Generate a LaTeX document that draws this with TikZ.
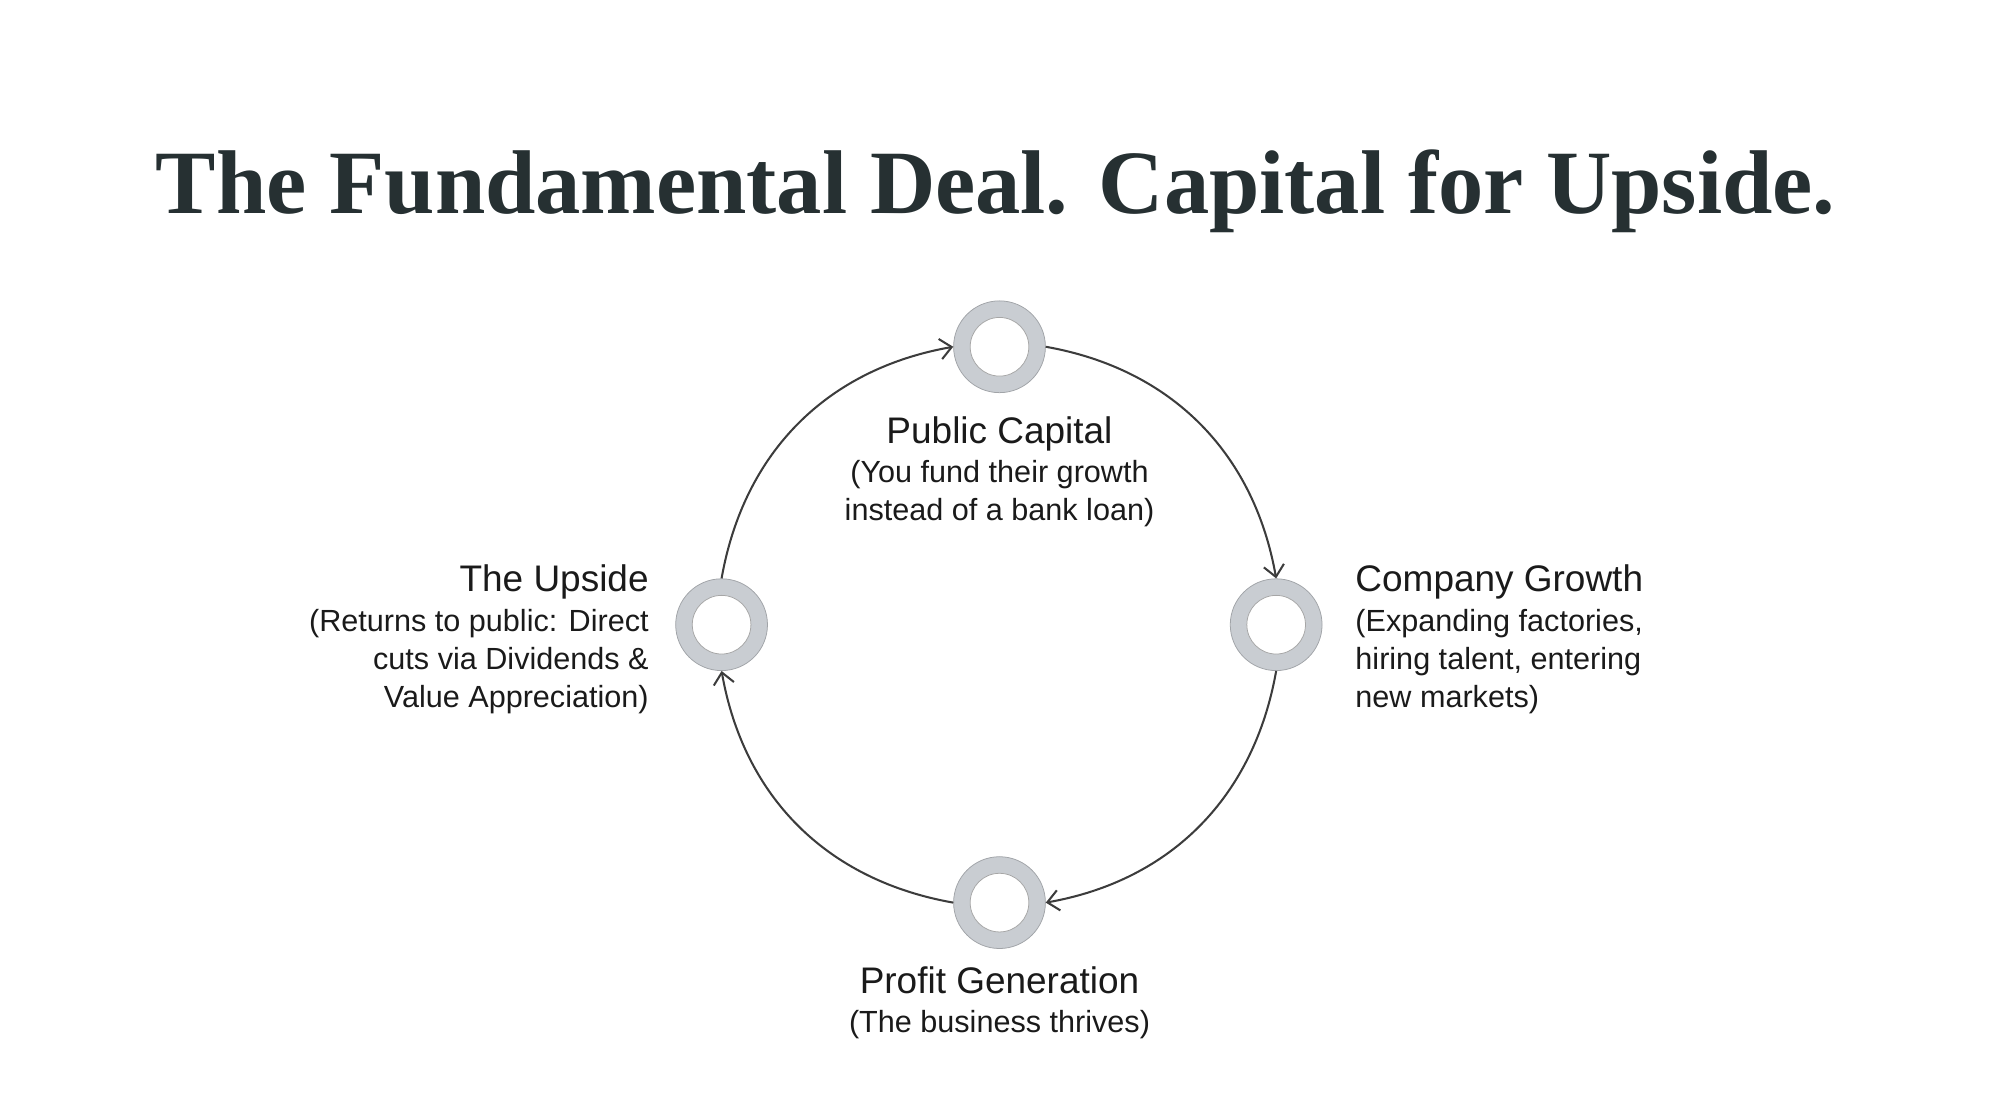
\documentclass[tikz,border=0pt]{standalone}
\usepackage{fontspec}
\setmainfont{Liberation Sans}
\newfontfamily\titlefont{Liberation Serif}
\usetikzlibrary{arrows.meta}
\definecolor{ttl}{HTML}{263032}
\definecolor{txt}{HTML}{1A1A1A}
\definecolor{ring}{HTML}{C9CDD2}
\begin{document}
\begin{tikzpicture}[x=1pt,y=-1pt,
  hub/.style={circle,minimum size=72pt,inner sep=0pt,fill=ring,draw=ring!80!black,line width=0.6pt,
    path picture={\fill[white] (path picture bounding box.center) circle (23pt);
      \draw[gray!70,line width=0.6pt] (path picture bounding box.center) circle (23pt);}},
  conn/.style={draw=txt!85,line width=1.6pt,-{Straight Barb[length=9pt,width=16pt,line width=1.6pt]}},
  head/.style={font=\fontsize{29}{30}\selectfont,text=txt,inner sep=0pt},
  lab/.style={font=\fontsize{24}{29.5}\selectfont,text=txt,inner sep=0pt}]
\useasboundingbox (0,0) rectangle (1568,878);
\node[font=\titlefont\bfseries\fontsize{71}{80}\selectfont,text=ttl,inner sep=0pt] (title) at (781,150) {The Fundamental Deal. Capital for Upside.};
\node[hub] (top) at (784,272) {};
\node[hub] (right) at (1001,490) {};
\node[hub] (bottom) at (784,708) {};
\node[hub] (left) at (566,490) {};
\draw[conn] (top.east) to[out=-10,in=100] (right.north);
\draw[conn] (right.south) to[out=-100,in=10] (bottom.east);
\draw[conn] (bottom.west) to[out=170,in=-80] (left.south);
\draw[conn] (left.north) to[out=80,in=190] (top.west);
\node[head,anchor=base] (t1) at (784,348) {Public Capital};
\node[lab,align=center,anchor=north] (t2) at (784,361) {(You fund their growth\\instead of a bank loan)};
\node[head,anchor=base west] (r1) at (1063,464) {Company Growth};
\node[lab,align=left,anchor=north west] (r2) at (1063,478) {(Expanding factories,\\hiring talent, entering\\new markets)};
\node[head,anchor=base east] (l1) at (509,464) {The Upside};
\node[lab,align=right,anchor=north east] (l2) at (509,478) {(Returns to public: Direct\\cuts via Dividends \&\\Value Appreciation)};
\node[head,anchor=base] (b1) at (784,779) {Profit Generation};
\node[lab,align=center,anchor=north] (b2) at (784,792) {(The business thrives)};
\end{tikzpicture}
\end{document}
